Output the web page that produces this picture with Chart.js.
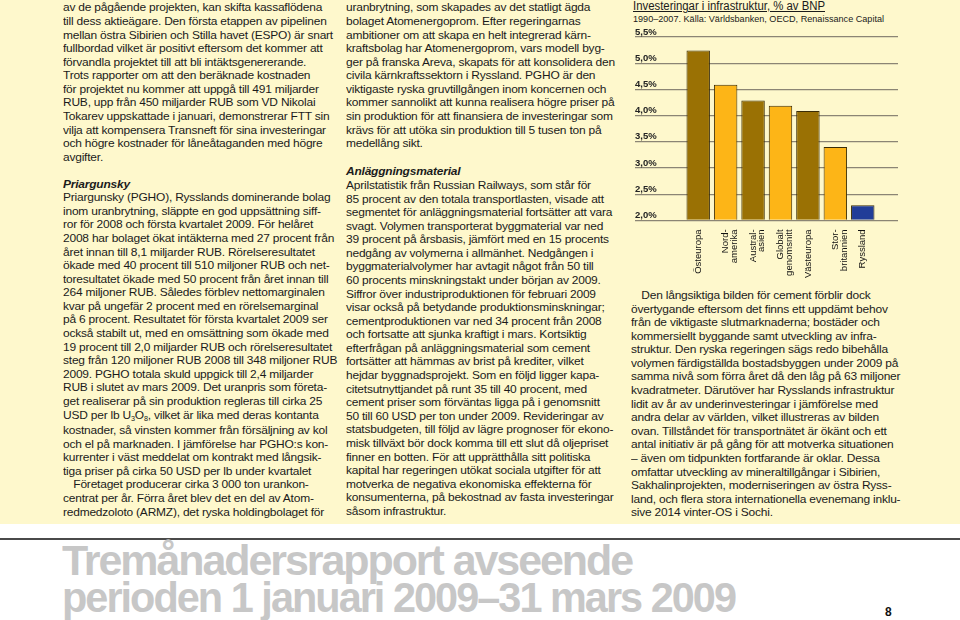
<!DOCTYPE html>
<html lang="sv">
<head>
<meta charset="utf-8">
<script src="https://cdn.jsdelivr.net/npm/chart.js@4.4.1/dist/chart.umd.min.js"></script>
<style>
  html, body { margin: 0; padding: 0; }
  body { width: 960px; height: 620px; position: relative; overflow: hidden; background: #fff;
         font-family: "Liberation Sans", Arial, sans-serif; color: #1b1b1b; }
  .paper { position: absolute; left: 0; top: 0; width: 960px; height: 524px; background: #fef8cc; }
  .col { position: absolute; font-size: 11.6px; line-height: 13.58px; letter-spacing: -0.2px;
         white-space: nowrap; transform-origin: 0 0; }
  .col div { width: max-content; white-space: pre; }
  .col .h { font-weight: bold; font-style: italic; }
  .col .ind { padding-left: 10px; }
  .sub { font-size: 7px; position: relative; top: 2px; }
  .ctitle { position: absolute; left: 633px; top: 0px; font-size: 12px; line-height: 13px; white-space: pre;
            text-decoration: underline; text-decoration-thickness: 1px; text-underline-offset: 1px;
            transform-origin: 0 0; width: max-content; }
  .csub { position: absolute; left: 633px; top: 14px; font-size: 9px; line-height: 10px; white-space: pre;
          transform-origin: 0 0; width: max-content; }
  #chartBox { position: absolute; left: 635px; top: 24px; width: 263px; height: 255px; }
  .rule { position: absolute; left: 0; top: 538px; width: 960px; height: 1.5px; background: #4a4a4a; }
  .big { position: absolute; left: 62px; font-size: 42px; font-weight: bold; color: #c7c7c7; letter-spacing: -2px;
         white-space: pre; transform-origin: 0 0; width: max-content; line-height: 42px; }
  .pnum { position: absolute; left: 885px; top: 605px; font-size: 12px; font-weight: bold; color: #111; }
</style>
</head>
<body>
<div class="paper"></div>

<!-- spalt 1 -->
<div class="col" style="left:63px; top:0.4px">
<div>av de pågående projekten, kan skifta kassaflödena</div>
<div>till dess aktieägare. Den första etappen av pipelinen</div>
<div id="refLine">mellan östra Sibirien och Stilla havet (ESPO) är snart</div>
<div>fullbordad vilket är positivt eftersom det kommer att</div>
<div>förvandla projektet till att bli intäktsgenererande.</div>
<div>Trots rapporter om att den beräknade kostnaden</div>
<div>för projektet nu kommer att uppgå till 491 miljarder</div>
<div>RUB, upp från 450 miljarder RUB som VD Nikolai</div>
<div>Tokarev uppskattade i januari, demonstrerar FTT sin</div>
<div>vilja att kompensera Transneft för sina investeringar</div>
<div>och högre kostnader för låneåtaganden med högre</div>
<div>avgifter.</div>
</div>
<div class="col" style="left:63px; top:176.7px">
<div class="h">Priargunsky</div>
<div>Priargunsky (PGHO), Rysslands dominerande bolag</div>
<div>inom uranbrytning, släppte en god uppsättning siff-</div>
<div>ror för 2008 och första kvartalet 2009. För helåret</div>
<div>2008 har bolaget ökat intäkterna med 27 procent från</div>
<div>året innan till 8,1 miljarder RUB. Rörelseresultatet</div>
<div>ökade med 40 procent till 510 miljoner RUB och net-</div>
<div>toresultatet ökade med 50 procent från året innan till</div>
<div>264 miljoner RUB. Således förblev nettomarginalen</div>
<div>kvar på ungefär 2 procent med en rörelsemarginal</div>
<div>på 6 procent. Resultatet för första kvartalet 2009 ser</div>
<div>också stabilt ut, med en omsättning som ökade med</div>
<div>19 procent till 2,0 miljarder RUB och rörelseresultatet</div>
<div>steg från 120 miljoner RUB 2008 till 348 miljoner RUB</div>
<div>2009. PGHO totala skuld uppgick till 2,4 miljarder</div>
<div>RUB i slutet av mars 2009. Det uranpris som företa-</div>
<div>get realiserar på sin produktion regleras till cirka 25</div>
<div>USD per lb U<span class="sub">3</span>O<span class="sub">8</span>, vilket är lika med deras kontanta</div>
<div>kostnader, så vinsten kommer från försäljning av kol</div>
<div>och el på marknaden. I jämförelse har PGHO:s kon-</div>
<div>kurrenter i väst meddelat om kontrakt med långsik-</div>
<div>tiga priser på cirka 50 USD per lb under kvartalet</div>
<div class="ind">Företaget producerar cirka 3 000 ton urankon-</div>
<div>centrat per år. Förra året blev det en del av Atom-</div>
<div>redmedzoloto (ARMZ), det ryska holdingbolaget för</div>
</div>

<!-- spalt 2 -->
<div class="col" style="left:346px; top:0.4px">
<div>uranbrytning, som skapades av det statligt ägda</div>
<div>bolaget Atomenergoprom. Efter regeringarnas</div>
<div>ambitioner om att skapa en helt integrerad kärn-</div>
<div>kraftsbolag har Atomenergoprom, vars modell byg-</div>
<div>ger på franska Areva, skapats för att konsolidera den</div>
<div>civila kärnkraftssektorn i Ryssland. PGHO är den</div>
<div>viktigaste ryska gruvtillgången inom koncernen och</div>
<div>kommer sannolikt att kunna realisera högre priser på</div>
<div>sin produktion för att finansiera de investeringar som</div>
<div>krävs för att utöka sin produktion till 5 tusen ton på</div>
<div>medellång sikt.</div>
</div>
<div class="col" style="left:346px; top:164.4px">
<div class="h">Anläggningsmaterial</div>
<div>Aprilstatistik från Russian Railways, som står för</div>
<div>85 procent av den totala transportlasten, visade att</div>
<div>segmentet för anläggningsmaterial fortsätter att vara</div>
<div>svagt. Volymen transporterat byggmaterial var ned</div>
<div>39 procent på årsbasis, jämfört med en 15 procents</div>
<div>nedgång av volymerna i allmänhet. Nedgången i</div>
<div>byggmaterialvolymer har avtagit något från 50 till</div>
<div>60 procents minskningstakt under början av 2009.</div>
<div>Siffror över industriproduktionen för februari 2009</div>
<div>visar också på betydande produktionsminskningar;</div>
<div>cementproduktionen var ned 34 procent från 2008</div>
<div>och fortsatte att sjunka kraftigt i mars. Kortsiktig</div>
<div>efterfrågan på anläggningsmaterial som cement</div>
<div>fortsätter att hämmas av brist på krediter, vilket</div>
<div>hejdar byggnadsprojekt. Som en följd ligger kapa-</div>
<div>citetsutnyttjandet på runt 35 till 40 procent, med</div>
<div>cement priser som förväntas ligga på i genomsnitt</div>
<div>50 till 60 USD per ton under 2009. Revideringar av</div>
<div>statsbudgeten, till följd av lägre prognoser för ekono-</div>
<div>misk tillväxt bör dock komma till ett slut då oljepriset</div>
<div>finner en botten. För att upprätthålla sitt politiska</div>
<div>kapital har regeringen utökat sociala utgifter för att</div>
<div>motverka de negativa ekonomiska effekterna för</div>
<div>konsumenterna, på bekostnad av fasta investeringar</div>
<div>såsom infrastruktur.</div>
</div>

<!-- spalt 3: diagram + text -->
<div class="ctitle" id="ctitle">Investeringar i infrastruktur, % av BNP</div>
<div class="csub" id="csub">1990–2007. Källa: Världsbanken, OECD, Renaissance Capital</div>
<div id="chartBox"><canvas id="chart" width="263" height="255"></canvas></div>

<div class="col" style="left:631px; top:288px">
<div class="ind">Den långsiktiga bilden för cement förblir dock</div>
<div>övertygande eftersom det finns ett uppdämt behov</div>
<div>från de viktigaste slutmarknaderna; bostäder och</div>
<div>kommersiellt byggande samt utveckling av infra-</div>
<div>struktur. Den ryska regeringen sägs redo bibehålla</div>
<div>volymen färdigställda bostadsbyggen under 2009 på</div>
<div>samma nivå som förra året då den låg på 63 miljoner</div>
<div>kvadratmeter. Därutöver har Rysslands infrastruktur</div>
<div>lidit av år av underinvesteringar i jämförelse med</div>
<div>andra delar av världen, vilket illustreras av bilden</div>
<div>ovan. Tillståndet för transportnätet är ökänt och ett</div>
<div>antal initiativ är på gång för att motverka situationen</div>
<div>– även om tidpunkten fortfarande är oklar. Dessa</div>
<div>omfattar utveckling av mineraltillgångar i Sibirien,</div>
<div>Sakhalinprojekten, moderniseringen av östra Ryss-</div>
<div>land, och flera stora internationella evenemang inklu-</div>
<div>sive 2014 vinter-OS i Sochi.</div>
</div>

<div class="rule"></div>
<div class="big" id="big1" style="top:540px">Tremånadersrapport avseende</div>
<div class="big" id="big2" style="top:577px">perioden 1 januari 2009–31 mars 2009</div>
<div class="pnum">8</div>

<script>
// --- data ---
const categories = [
  ["Östeuropa"], ["Nord-", "amerika"], ["Austral-", "asien"], ["Globalt", "genomsnitt"],
  ["Västeuropa"], ["Stor-", "britannien"], ["Ryssland"]
];
const shares = [5.24, 4.59, 4.29, 4.19, 4.09, 3.40, 2.29];   // % av BNP
const yTicks = [2.0, 2.5, 3.0, 3.5, 4.0, 4.5, 5.0, 5.5];

const barColors = ["#9a7104", "#fdb517", "#9a7104", "#fdb517", "#9a7104", "#fdb517", "#213d98"];

// --- layout: trycksatt text komprimeras till originalets bredd ---
function natural(el) { el.style.transform = "none"; return el.getBoundingClientRect().width; }
function fit(el, w) { const n = natural(el); el.style.transform = `scaleX(${w / n})`; }

const k = 270 / natural(document.getElementById("refLine"));
document.querySelectorAll(".col").forEach(c => { c.style.transform = `scaleX(${k})`; });
fit(document.getElementById("ctitle"), 192);
fit(document.getElementById("csub"), 251);
fit(document.getElementById("big1"), 570);
fit(document.getElementById("big2"), 673);

// --- diagram ---
// linjär x-axel så att stödlinjerna kan gå ut under procentetiketterna till vänster
const xMin = -1.62, xMax = 6.6;

new Chart(document.getElementById("chart"), {
  type: "bar",
  data: {
    datasets: [{
      data: shares.map((v, i) => ({ x: i, y: v })),
      backgroundColor: barColors,
      borderColor: "#3a2c06",
      borderWidth: 1,
      base: 2,
      barPercentage: 0.9,
      categoryPercentage: 0.95
    }]
  },
  options: {
    responsive: false,
    animation: false,
    layout: { padding: { top: 13 } },
    plugins: { legend: { display: false }, tooltip: { enabled: false } },
    scales: {
      x: {
        type: "linear", min: xMin, max: xMax,
        grid: { display: false }, border: { display: false },
        afterBuildTicks: s => { s.ticks = categories.map((c, i) => ({ value: i })); },
        ticks: {
          autoSkip: false, minRotation: 90, maxRotation: 90, padding: 1,
          color: "#111", font: { family: "Liberation Sans", size: 9.5, lineHeight: 0.9 },
          callback: v => categories[v]
        }
      },
      y: {
        min: 2, max: 5.5,
        afterBuildTicks: s => { s.ticks = yTicks.map(v => ({ value: v })); },
        grid: { color: "#8b8574", lineWidth: 1.2, drawTicks: false },
        border: { display: false },
        ticks: {
          mirror: true, padding: 0, labelOffset: -5,
          color: "#222", font: { family: "Liberation Sans", size: 9.5, weight: "bold" },
          callback: v => v.toFixed(1).replace(".", ",") + "%"
        }
      }
    }
  }
});
</script>
</body>
</html>
